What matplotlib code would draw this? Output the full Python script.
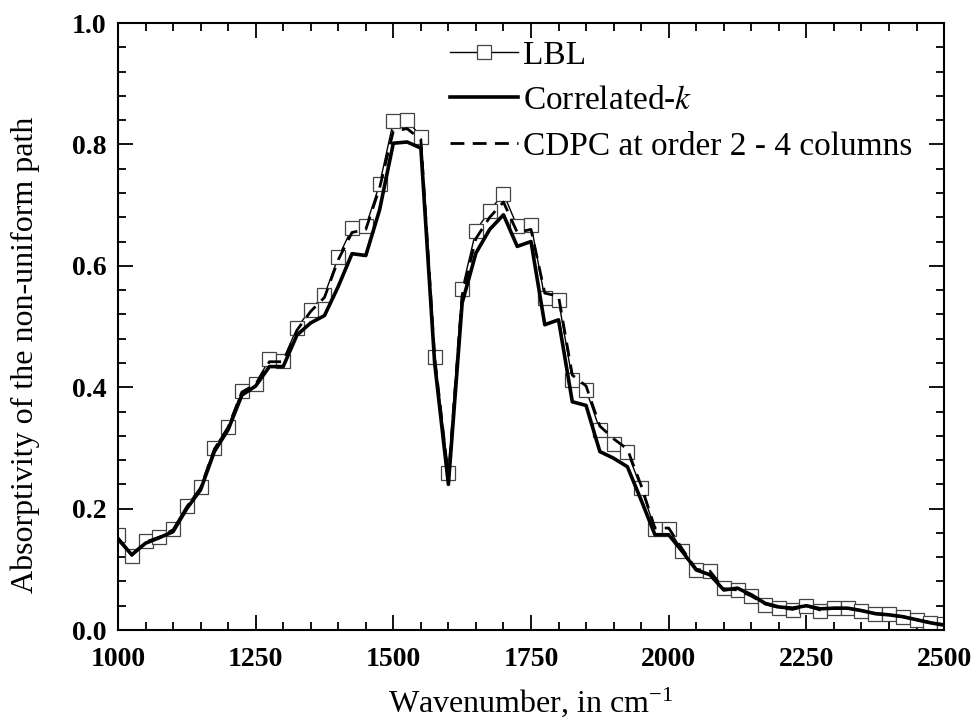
import numpy as np
import matplotlib.pyplot as plt
from matplotlib.ticker import MultipleLocator

# wavenumber grid (cm-1), 25 cm-1 step
wavenumber = np.arange(1000, 2501, 25)

lbl = [0.157, 0.122, 0.146, 0.154, 0.167, 0.205, 0.235, 0.300, 0.335, 0.394,
       0.406, 0.446, 0.444, 0.498, 0.528, 0.552, 0.614, 0.662, 0.665, 0.734,
       0.838, 0.840, 0.813, 0.449, 0.258, 0.562, 0.658, 0.691, 0.719, 0.665,
       0.668, 0.547, 0.543, 0.412, 0.396, 0.330, 0.306, 0.293, 0.234, 0.166,
       0.166, 0.131, 0.099, 0.098, 0.069, 0.066, 0.056, 0.042, 0.037, 0.033,
       0.040, 0.032, 0.036, 0.036, 0.032, 0.027, 0.026, 0.022, 0.016, 0.012,
       0.010]

corr_k = [0.150, 0.124, 0.143, 0.152, 0.162, 0.200, 0.231, 0.294, 0.330, 0.387,
          0.402, 0.434, 0.434, 0.486, 0.506, 0.518, 0.566, 0.620, 0.617, 0.692,
          0.802, 0.804, 0.794, 0.440, 0.240, 0.539, 0.621, 0.660, 0.684, 0.632,
          0.640, 0.503, 0.511, 0.376, 0.370, 0.294, 0.283, 0.269, 0.214, 0.157,
          0.157, 0.129, 0.099, 0.091, 0.066, 0.069, 0.058, 0.044, 0.038, 0.036,
          0.040, 0.035, 0.036, 0.036, 0.032, 0.027, 0.025, 0.022, 0.017, 0.012,
          0.008]

cdpc = [0.152, 0.123, 0.145, 0.153, 0.165, 0.203, 0.234, 0.298, 0.334, 0.392,
        0.405, 0.442, 0.442, 0.494, 0.525, 0.548, 0.610, 0.655, 0.660, 0.728,
        0.822, 0.826, 0.808, 0.450, 0.252, 0.552, 0.645, 0.680, 0.705, 0.655,
        0.660, 0.555, 0.550, 0.420, 0.402, 0.336, 0.315, 0.298, 0.238, 0.168,
        0.168, 0.133, 0.100, 0.097, 0.068, 0.066, 0.056, 0.043, 0.037, 0.034,
        0.040, 0.033, 0.036, 0.036, 0.032, 0.027, 0.025, 0.022, 0.017, 0.012,
        0.009]

plt.rcParams['font.family'] = ['Liberation Serif', 'DejaVu Serif']
plt.rcParams['mathtext.fontset'] = 'stix'

fig = plt.figure(figsize=(9.79, 7.24), dpi=100)
ax = fig.add_axes([0.1205, 0.1298, 0.8438, 0.8384])

ax.plot(wavenumber, lbl, color='black', lw=1.0, marker='s', ms=10,
        mfc='white', mec='#444444', mew=0.9, label='LBL', zorder=2)
ax.plot(wavenumber, corr_k, color='black', lw=2.6, label='Correlated-$k$',
        zorder=3)
ax.plot(wavenumber, cdpc, color='black', lw=2.0, ls=(0, (5, 3)),
        label='CDPC at order 2 - 4 columns', zorder=4)

ax.set_xlim(1000, 2500)
ax.set_ylim(0.0, 1.0)
ax.xaxis.set_major_locator(MultipleLocator(250))
ax.xaxis.set_minor_locator(MultipleLocator(50))
ax.yaxis.set_major_locator(MultipleLocator(0.2))
ax.yaxis.set_minor_locator(MultipleLocator(0.04))
ax.yaxis.set_major_formatter(plt.FormatStrFormatter('%.1f'))

ax.tick_params(which='both', direction='in', top=True, right=True,
               width=1.3, labelsize=20)
ax.tick_params(which='major', length=11)
ax.tick_params(which='minor', length=6)
ax.tick_params(axis='x', pad=12)
ax.tick_params(axis='y', pad=8)
for lab in ax.get_xticklabels() + ax.get_yticklabels():
    lab.set_fontweight('bold')
for sp in ax.spines.values():
    sp.set_linewidth(1.5)

ax.set_xlabel('Wavenumber, in cm$^{\\mathregular{-1}}$', fontsize=23, labelpad=10)
ax.set_ylabel('Absorptivity of the non-uniform path', fontsize=23)
ax.yaxis.set_label_coords(-0.094, 0.453)

leg = ax.legend(loc='upper left', bbox_to_anchor=(0.402, 0.972), frameon=False,
                fontsize=24, handlelength=2.05, handletextpad=0.15,
                labelspacing=0.45, borderaxespad=0, borderpad=0)

fig.savefig('out.png', dpi=100)
